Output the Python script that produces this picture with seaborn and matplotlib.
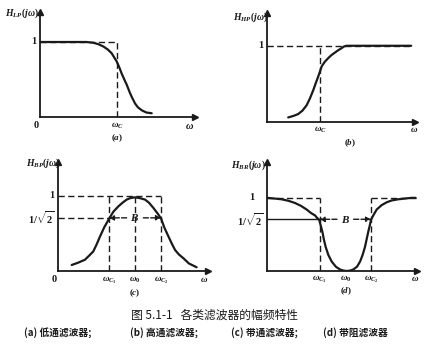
import matplotlib
matplotlib.use("Agg")
import matplotlib.pyplot as plt
import seaborn as sns
import pandas as pd

# ---- data: magnitude responses (normalised frequency units) ----
lp_w = [0, 1.5, 2.6, 3.0, 3.46, 3.8, 4.11, 4.4, 4.65, 4.8, 4.98, 5.15, 5.3, 5.45, 5.63, 5.84,
        5.95, 6.17, 6.35, 6.6, 6.9, 7.25]
lp_h = [1.0, 1.0, 1.0, 1.0, 0.99, 0.97, 0.94, 0.90, 0.85, 0.80, 0.74, 0.66, 0.58, 0.51, 0.43, 0.32,
        0.27, 0.18, 0.13, 0.09, 0.06, 0.05]
lp_wc = 5.0

hp_w = [2.0, 2.5, 2.95, 3.35, 3.74, 4.05, 4.37, 4.6, 4.84, 5.16, 5.45, 5.79, 6.1, 6.4, 6.7,
        7.05, 7.25, 7.5, 9.0, 11.0, 13.6]
hp_h = [0.06, 0.08, 0.105, 0.15, 0.22, 0.31, 0.42, 0.51, 0.60, 0.73, 0.79, 0.84, 0.88, 0.91, 0.94,
        0.97, 0.99, 1.0, 1.0, 1.0, 1.0]
hp_wc = 5.0

bp_w = [0.89, 1.3, 1.75, 2.0, 2.29, 2.5, 2.73, 3.0, 3.33, 3.6, 3.92, 4.2, 4.46, 4.7, 5.0, 5.3,
        5.65, 5.9, 6.19, 6.45, 6.69, 6.9, 7.17, 7.4, 7.6, 7.85, 8.14, 8.5, 9.0]
bp_h = [0.08, 0.11, 0.15, 0.20, 0.26, 0.35, 0.46, 0.58, 0.70, 0.79, 0.86, 0.91, 0.95, 0.97, 0.98, 0.97,
        0.95, 0.91, 0.84, 0.77, 0.70, 0.58, 0.46, 0.36, 0.28, 0.22, 0.17, 0.10, 0.05]
bp_wc = [3.31, 5.0, 6.69]

br_w = [0, 0.5, 0.93, 1.35, 1.77, 2.15, 2.51, 2.8, 3.04, 3.15, 3.3, 3.4, 3.5, 3.6, 3.71, 3.88,
        4.09, 4.35, 4.62, 4.85, 5.04, 5.25, 5.46, 5.7, 5.89, 6.05, 6.2, 6.3, 6.41, 6.5, 6.58,
        6.75, 6.94, 7.25, 7.58, 7.9, 8.3, 8.7, 9.16, 9.4]
br_h = [1.0, 0.99, 0.98, 0.96, 0.93, 0.89, 0.84, 0.79, 0.76, 0.73, 0.70, 0.62, 0.54, 0.43, 0.33, 0.22,
        0.13, 0.06, 0.02, 0.005, 0.0, 0.005, 0.02, 0.06, 0.13, 0.22, 0.33, 0.43, 0.54, 0.62, 0.70,
        0.77, 0.84, 0.90, 0.94, 0.965, 0.98, 0.99, 1.0, 1.0]
br_wc = [3.33, 5.0, 6.58]

half_power = 0.707

ylabels = [r"$H_{LP}(j\omega)$", r"$H_{HP}(j\omega)$", r"$H_{BP}(j\omega)$", r"$H_{BR}(j\omega)$"]
panel_tags = [r"$(a)$", r"$(b)$", r"$(c)$", r"$(d)$"]
title_text = "图 5.1-1   各类滤波器的幅频特性"
sub_texts = ["(a) 低通滤波器;", "(b) 高通滤波器;", "(c) 带通滤波器;", "(d) 带阻滤波器"]

# ---- style ----
sns.set_theme(style="white")
plt.rcParams["font.family"] = ["Liberation Serif", "DejaVu Serif"]
plt.rcParams["mathtext.fontset"] = "custom"
plt.rcParams["mathtext.it"] = "Liberation Serif:italic:bold"
plt.rcParams["mathtext.rm"] = "Liberation Serif:bold"
plt.rcParams["mathtext.bf"] = "Liberation Serif:bold"

W, H = 427, 348
fig = plt.figure(figsize=(W / 100, H / 100), dpi=100)
fig.patch.set_facecolor("white")

INK = "#1a1a1a"
DASH = dict(color=INK, lw=1.0, ls=(0, (4.5, 2.5)))


def make_axes(ox, oy, xend, ytop, xmax, ymax):
    """Axes whose origin sits at pixel (ox, oy) measured from the top-left."""
    ax = fig.add_axes([ox / W, 1 - oy / H, (xend - ox) / W, (oy - ytop) / H])
    ax.set_xlim(0, xmax)
    ax.set_ylim(0, ymax)
    ax.set_facecolor("none")
    for s in ["top", "right"]:
        ax.spines[s].set_visible(False)
    for s in ["left", "bottom"]:
        ax.spines[s].set_color(INK)
        ax.spines[s].set_linewidth(1.3)
    ax.set_xticks([])
    ax.set_yticks([])
    ax.plot(1, 0, marker=">", color=INK, ms=4, transform=ax.transAxes, clip_on=False)
    ax.plot(0, 1, marker="^", color=INK, ms=4, transform=ax.transAxes, clip_on=False)
    return ax


def curve(ax, w, h):
    sns.lineplot(data=pd.DataFrame({"w": w, "h": h}), x="w", y="h", ax=ax,
                 color=INK, lw=1.6, sort=False, estimator=None,
                 solid_joinstyle="round", solid_capstyle="round")
    ax.set_xlabel("")
    ax.set_ylabel("")


def bandwidth(ax, x1, x2, y):
    mid = (x1 + x2) / 2
    for end in (x1, x2):
        ax.annotate("", xy=(end, y), xytext=(mid, y),
                    arrowprops=dict(arrowstyle="-|>", color=INK, lw=1.0, ls="--",
                                    mutation_scale=7, shrinkA=6, shrinkB=0))
    ax.text(mid, y, "$B$", ha="center", va="center", fontsize=8, color=INK)


FS = 7.5

# (a) low-pass
ax = make_axes(40, 117, 195, 12, 10.06, 1.4)
ax.plot([0, lp_wc], [1, 1], **DASH)
ax.plot([lp_wc, lp_wc], [0, 1], **DASH)
curve(ax, lp_w, lp_h)
ax.text(-0.25, 1, "1", ha="right", va="center", fontsize=FS, color=INK, fontweight="bold")
ax.text(-0.1, -0.05, "0", ha="right", va="top", fontsize=FS, color=INK, fontweight="bold")
ax.text(lp_wc, -0.05, r"$\omega_C$", ha="center", va="top", fontsize=6.5, color=INK)
ax.text(9.7, -0.05, r"$\omega$", ha="center", va="top", fontsize=7.5, color=INK)
ax.text(lp_wc, -0.2, panel_tags[0], ha="center", va="top", fontsize=6.5, color=INK)
ax.text(-2.3, 1.38, ylabels[0], ha="left", va="center", fontsize=7, color=INK)

# (b) high-pass
ax = make_axes(267, 122, 415, 13, 13.96, 1.43)
ax.plot([0, 13.6], [1, 1], **DASH)
ax.plot([hp_wc, hp_wc], [0, 1], **DASH)
curve(ax, hp_w, hp_h)
ax.text(-0.35, 1, "1", ha="right", va="center", fontsize=FS, color=INK, fontweight="bold")
ax.text(hp_wc, -0.04, r"$\omega_C$", ha="center", va="top", fontsize=6.5, color=INK)
ax.text(13.9, -0.04, r"$\omega$", ha="center", va="top", fontsize=6.5, color=INK)
ax.text(7.8, -0.2, panel_tags[1], ha="center", va="top", fontsize=6.5, color=INK)
ax.text(-3.2, 1.38, ylabels[1], ha="left", va="center", fontsize=7, color=INK)

# (c) band-pass
ax = make_axes(58, 271, 208, 162, 9.74, 1.45)
ax.plot([0, bp_wc[2]], [1, 1], **DASH)
for x in bp_wc:
    ax.plot([x, x], [0, 1], **DASH)
ax.plot([0, bp_wc[0]], [half_power, half_power], **DASH)
curve(ax, bp_w, bp_h)
bandwidth(ax, bp_wc[0], bp_wc[2], half_power)
ax.text(-0.25, 1, "1", ha="right", va="center", fontsize=FS, color=INK, fontweight="bold")
ax.text(-0.2, half_power, r"$\mathrm{1/}\sqrt{\mathrm{2}}$", ha="right", va="center", fontsize=7.5, color=INK)
ax.text(-0.1, -0.05, "0", ha="right", va="top", fontsize=FS, color=INK, fontweight="bold")
for x, lab in zip(bp_wc, [r"$\omega_{C_1}$", r"$\omega_0$", r"$\omega_{C_2}$"]):
    ax.text(x, -0.05, lab, ha="center", va="top", fontsize=6.5, color=INK)
ax.text(9.5, -0.05, r"$\omega$", ha="center", va="top", fontsize=6.5, color=INK)
ax.text(bp_wc[1], -0.22, panel_tags[2], ha="center", va="top", fontsize=6.5, color=INK)
ax.text(-2.1, 1.44, ylabels[2], ha="left", va="center", fontsize=7, color=INK)

# (d) band-reject
ax = make_axes(267, 271, 417, 162, 9.49, 1.49)
ax.plot([0, br_wc[0]], [1, 1], **DASH)
ax.plot([br_wc[0], br_wc[0]], [0, 1], **DASH)
ax.plot([br_wc[2], br_wc[2]], [0, 1], **DASH)
ax.plot([br_wc[2], 9.4], [1, 1], **DASH)
ax.plot([0, br_wc[0]], [half_power, half_power], color=INK, lw=1.0)
curve(ax, br_w, br_h)
bandwidth(ax, br_wc[0], br_wc[2], half_power)
ax.text(-0.8, 1, "1", ha="right", va="center", fontsize=FS, color=INK, fontweight="bold")
ax.text(-0.2, half_power, r"$\mathrm{1/}\sqrt{\mathrm{2}}$", ha="right", va="center", fontsize=7.5, color=INK)
for x, lab in zip(br_wc, [r"$\omega_{C_1}$", r"$\omega_0$", r"$\omega_{C_2}$"]):
    ax.text(x, -0.04, lab, ha="center", va="top", fontsize=6.5, color=INK)
ax.text(9.35, -0.04, r"$\omega$", ha="center", va="top", fontsize=6.5, color=INK)
ax.text(br_wc[1], -0.2, panel_tags[3], ha="center", va="top", fontsize=6.5, color=INK)
ax.text(-2.3, 1.44, ylabels[3], ha="left", va="center", fontsize=7, color=INK)

# ---- caption ----
cjk = ["Noto Sans CJK SC", "DejaVu Sans"]
fig.text(215 / W, 1 - 315 / H, title_text, ha="center", va="center", fontsize=8.5,
         family=cjk, color=INK)
for x, t in zip([24, 130, 231, 323], sub_texts):
    fig.text(x / W, 1 - 333 / H, t, ha="left", va="center", fontsize=7,
             family=cjk, color=INK, fontweight="bold")

fig.savefig("out.png", dpi=100, facecolor="white")
